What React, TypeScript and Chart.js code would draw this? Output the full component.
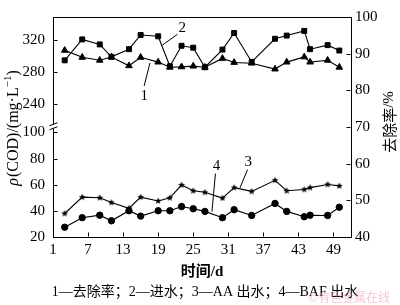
import React, { useEffect, useRef } from 'react';
import { Chart, registerables } from 'chart.js';

Chart.register(...registerables);

// ---- data ----
const days = [3, 6, 9, 11, 14, 16, 19, 21, 23, 25, 27, 30, 32, 35, 39, 41, 44, 45, 48, 50];
const removalRate = [90.9, 89.0, 88.2, 89.1, 86.7, 89.0, 87.7, 86.3, 86.4, 86.6, 86.3, 88.7, 87.6, 87.4, 85.8, 87.7, 89.1, 87.7, 88.2, 86.3];
const influent = [294.9, 321.2, 314.9, 299.3, 308.9, 326.8, 325.1, 287.4, 313.2, 310.8, 286.2, 308.4, 329.2, 292.9, 322.0, 326.0, 331.9, 308.9, 314.0, 307.2];
const aaEffluent = [38.0, 50.5, 50.0, 46.4, 42.0, 50.5, 47.6, 50.0, 59.8, 55.4, 54.2, 49.8, 57.8, 54.9, 63.4, 55.4, 56.4, 57.8, 60.2, 59.1];
const bafEffluent = [27.5, 34.8, 36.7, 32.4, 40.1, 36.0, 40.1, 40.1, 43.3, 41.6, 39.6, 34.8, 40.9, 36.5, 45.7, 39.6, 35.5, 36.7, 36.5, 42.8];

const xTicks = [1, 7, 13, 19, 25, 31, 37, 43, 49];
const leftLowerTicks = [20, 40, 60, 80, 100];
const leftUpperTicks = [240, 280, 320];
const rightTicks = [40, 50, 60, 70, 80, 90, 100];

const xTitle = '时间/d';
const leftTitleParts = ['ρ', '(COD)/(mg·L', '−1', ')'];
const rightTitleParts = ['去除率', '/%'];
const legendText = '1—去除率；2—进水；3—AA 出水；4—BAF 出水';
const watermark = '©有色金属在线';

// series label annotations: [label, textDay, textPct, lineFromDay, lineFromPct, lineToDay, lineToPct]
const seriesLabels: [string, number, number, number, number, number, number][] = [
  ['2', 23.1, 97.0, 22.3, 95.3, 19.7, 92.3],
  ['1', 16.6, 78.4, 16.6, 81.2, 17.6, 87.5],
  ['3', 34.4, 60.4, 34.3, 58.4, 33.0, 53.4],
  ['4', 29.0, 59.4, 28.8, 57.3, 28.2, 46.9],
];

// ---- broken left axis mapping ----
const BREAK_LOW = 100;
const BREAK_HIGH = 240;
const GAP = 21.8;
const K = 0.609;
const toAxis = (v: number) => (v <= BREAK_LOW ? v : BREAK_LOW + GAP + (v - BREAK_HIGH) * K);
const fromAxis = (a: number) => (a <= BREAK_LOW + 1e-6 ? a : BREAK_HIGH + (a - BREAK_LOW - GAP) / K);

const SERIF = "'Liberation Serif', 'Times New Roman', serif";
const MIXED = "'Liberation Serif', 'Noto Sans CJK SC', serif";
const CJK = "'Noto Sans CJK SC', sans-serif";

function makeStar(r: number) {
  const s = Math.ceil(r * 2 + 2);
  const c = document.createElement('canvas');
  c.width = s;
  c.height = s;
  const g = c.getContext('2d')!;
  g.beginPath();
  for (let i = 0; i < 10; i++) {
    const a = -Math.PI / 2 + (i * Math.PI) / 5;
    const rad = i % 2 ? r * 0.45 : r;
    const px = s / 2 + rad * Math.cos(a);
    const py = s / 2 + rad * Math.sin(a);
    if (i === 0) g.moveTo(px, py);
    else g.lineTo(px, py);
  }
  g.closePath();
  g.fillStyle = '#000';
  g.fill();
  return c;
}

const decorPlugin = {
  id: 'decor',
  afterDraw(chart: any) {
    const ctx: CanvasRenderingContext2D = chart.ctx;
    const { left, right, top, bottom } = chart.chartArea;
    const sx = chart.scales.x;
    const yL = chart.scales.yL;
    const yR = chart.scales.yR;
    ctx.save();
    ctx.strokeStyle = '#000';
    ctx.lineWidth = 1;
    const line = (x1: number, y1: number, x2: number, y2: number) => {
      ctx.beginPath();
      ctx.moveTo(x1, y1);
      ctx.lineTo(x2, y2);
      ctx.stroke();
    };
    const L = Math.round(left) + 0.5;
    const R = Math.round(right) - 0.5;
    const T = Math.round(top) + 0.5;
    const B = Math.round(bottom) - 0.5;
    // top frame
    line(L, T, R + 0.5, T);
    // inward ticks
    const tl = 4;
    xTicks.forEach((t) => {
      const px = Math.round(sx.getPixelForValue(t)) + 0.5;
      line(px, B, px, B - tl);
    });
    [...leftLowerTicks, ...leftUpperTicks].forEach((t) => {
      const py = Math.round(yL.getPixelForValue(toAxis(t))) + 0.5;
      line(L, py, L + tl, py);
    });
    rightTicks.forEach((t) => {
      const py = Math.round(yR.getPixelForValue(t)) + 0.5;
      line(R, py, R - tl, py);
    });
    // axis break
    const yb = yL.getPixelForValue(BREAK_LOW + GAP * 0.22);
    ctx.fillStyle = '#fff';
    ctx.fillRect(L - 2, yb - 2, 4, 4);
    line(L - 4, yb - 0.5, L + 4, yb - 3.5);
    line(L - 4, yb + 3.5, L + 4, yb + 0.5);

    // series labels with leader lines
    ctx.fillStyle = '#000';
    ctx.font = `15px ${SERIF}`;
    ctx.textAlign = 'center';
    ctx.textBaseline = 'middle';
    seriesLabels.forEach(([lab, td, tp, d1, p1, d2, p2]) => {
      ctx.fillText(lab, sx.getPixelForValue(td), yR.getPixelForValue(tp));
      line(sx.getPixelForValue(d1), yR.getPixelForValue(p1), sx.getPixelForValue(d2), yR.getPixelForValue(p2));
    });

    // x title
    ctx.font = `bold 15px ${MIXED}`;
    ctx.fillText(xTitle, (left + right) / 2, 272);

    // legend line, fitted to the reference width
    let fs = 14;
    ctx.font = `${fs}px ${MIXED}`;
    const w = ctx.measureText(legendText).width;
    if (w > 0) fs = Math.min(14, (fs * 314) / w);
    ctx.font = `${fs}px ${MIXED}`;
    ctx.fillText(legendText, 205, 292);

    // watermark
    ctx.font = `12px ${CJK}`;
    ctx.fillStyle = 'rgba(236,150,165,0.55)';
    ctx.textAlign = 'left';
    ctx.fillText(watermark, 308, 297);

    // left title (rotated)
    ctx.fillStyle = '#000';
    ctx.save();
    ctx.translate(14, 128);
    ctx.rotate(-Math.PI / 2);
    const lp = [
      { t: leftTitleParts[0], f: `italic 16px ${SERIF}`, dy: 0, gap: 1 },
      { t: leftTitleParts[1], f: `16px ${SERIF}`, dy: 0, gap: 0 },
      { t: leftTitleParts[2], f: `11px ${SERIF}`, dy: -6, gap: 0 },
      { t: leftTitleParts[3], f: `16px ${SERIF}`, dy: 0, gap: 0 },
    ];
    let total = 0;
    lp.forEach((p) => {
      ctx.font = p.f;
      total += ctx.measureText(p.t).width + p.gap;
    });
    let cx = -total / 2;
    ctx.textAlign = 'left';
    lp.forEach((p) => {
      ctx.font = p.f;
      ctx.fillText(p.t, cx, p.dy);
      cx += ctx.measureText(p.t).width + p.gap;
    });
    ctx.restore();

    // right title (rotated)
    ctx.save();
    ctx.translate(389, 122);
    ctx.rotate(-Math.PI / 2);
    const rp = [
      { t: rightTitleParts[0], f: `15px ${CJK}` },
      { t: rightTitleParts[1], f: `15px ${SERIF}` },
    ];
    let rt = 0;
    rp.forEach((p) => {
      ctx.font = p.f;
      rt += ctx.measureText(p.t).width;
    });
    let rx = -rt / 2;
    ctx.textAlign = 'left';
    rp.forEach((p) => {
      ctx.font = p.f;
      ctx.fillText(p.t, rx, 0);
      rx += ctx.measureText(p.t).width;
    });
    ctx.restore();

    ctx.restore();
  },
};

export default function App() {
  const ref = useRef<HTMLCanvasElement | null>(null);

  useEffect(() => {
    if (!ref.current) return;
    const star = makeStar(3.6);
    const pts = (arr: number[], f: (v: number) => number = (v) => v) =>
      days.map((d, i) => ({ x: d, y: f(arr[i]) }));
    const common = {
      borderColor: '#000',
      backgroundColor: '#000',
      pointBackgroundColor: '#000',
      pointBorderColor: '#000',
      borderWidth: 1.1,
      pointBorderWidth: 1,
      tension: 0,
      fill: false,
    };
    const tickFont = { family: SERIF, size: 15 };
    const chart = new Chart(ref.current, {
      type: 'line',
      data: {
        datasets: [
          { ...common, label: '1—去除率', data: pts(removalRate), yAxisID: 'yR', pointStyle: 'triangle', pointRadius: 3.8 },
          { ...common, label: '2—进水', data: pts(influent, toAxis), yAxisID: 'yL', pointStyle: 'rect', pointRadius: 3.5 },
          { ...common, label: '3—AA 出水', data: pts(aaEffluent), yAxisID: 'yL', pointStyle: star as any, pointRadius: 3.6 },
          { ...common, label: '4—BAF 出水', data: pts(bafEffluent), yAxisID: 'yL', pointStyle: 'circle', pointRadius: 3.2 },
        ] as any,
      },
      options: {
        animation: false,
        responsive: false,
        devicePixelRatio: 1,
        layout: { padding: { top: 5, left: 0, right: 0, bottom: 0 } },
        plugins: { legend: { display: false }, tooltip: { enabled: false } },
        scales: {
          x: {
            type: 'linear',
            min: 1,
            max: 52,
            grid: { display: false, drawTicks: false },
            border: { display: true, color: '#000', width: 1 },
            ticks: { color: '#000', font: tickFont, padding: 4, autoSkip: false, maxRotation: 0 },
            afterBuildTicks: (s: any) => {
              s.ticks = xTicks.map((v) => ({ value: v }));
            },
            afterFit: (s: any) => {
              s.height = 68;
            },
          },
          yL: {
            type: 'linear',
            position: 'left',
            min: 20,
            max: 188.4,
            grid: { display: false, drawTicks: false },
            border: { display: true, color: '#000', width: 1 },
            ticks: {
              color: '#000',
              font: tickFont,
              padding: 8,
              autoSkip: false,
              callback: (v: any) => String(Math.round(fromAxis(Number(v)))),
            },
            afterBuildTicks: (s: any) => {
              s.ticks = [...leftLowerTicks, ...leftUpperTicks].map((v) => ({ value: toAxis(v) }));
            },
            afterFit: (s: any) => {
              s.width = 53;
            },
          },
          yR: {
            type: 'linear',
            position: 'right',
            min: 40,
            max: 100,
            grid: { display: false, drawTicks: false },
            border: { display: true, color: '#000', width: 1 },
            ticks: { color: '#000', font: tickFont, padding: 4, autoSkip: false },
            afterBuildTicks: (s: any) => {
              s.ticks = rightTicks.map((v) => ({ value: v }));
            },
            afterFit: (s: any) => {
              s.width = 49;
            },
          },
        },
      } as any,
      plugins: [decorPlugin],
    });
    return () => chart.destroy();
  }, []);

  return (
    <div style={{ position: 'absolute', left: 0, top: 0, width: 400, height: 305, background: '#fff' }}>
      <canvas ref={ref} width={400} height={305} style={{ display: 'block', width: 400, height: 305 }} />
    </div>
  );
}
